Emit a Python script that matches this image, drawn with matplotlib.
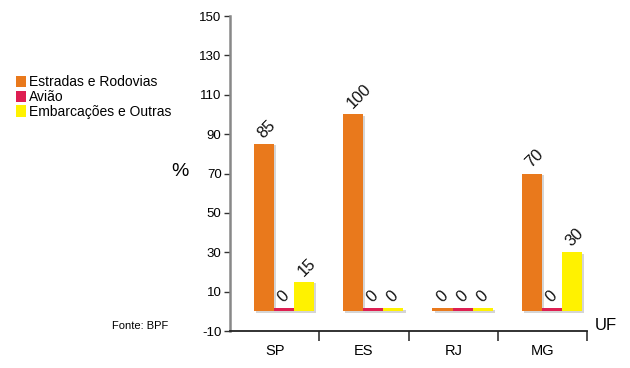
import matplotlib
matplotlib.use("Agg")
import matplotlib.pyplot as plt
import numpy as np
from matplotlib.patches import Patch
import matplotlib.patheffects as pe

categories = ["SP", "ES", "RJ", "MG"]
series_names = ["Estradas e Rodovias", "Avião", "Embarcações e Outras"]
estradas = [85, 100, 0, 70]
aviao = [0, 0, 0, 0]
embarcacoes = [15, 0, 0, 30]
yticks = [-10, 10, 30, 50, 70, 90, 110, 130, 150]

colors = ["#E9791C", "#DE1F52", "#FFF200"]
series = [estradas, aviao, embarcacoes]
offsets = [-0.12, 0.105, 0.33]
width = 0.225
stub = 1.6

plt.rcParams['font.family'] = ['Liberation Sans', 'DejaVu Sans']
fig = plt.figure(figsize=(6.3, 3.68), dpi=100)
ax = fig.add_axes([0.365, 0.1005, 0.567, 0.856])

x = np.arange(len(categories))
shadow = [pe.SimplePatchShadow(offset=(1.5, -1.0), shadow_rgbFace='#888888', alpha=0.35), pe.Normal()]
for vals, off, col in zip(series, offsets, colors):
    heights = [v if v > 0 else stub for v in vals]
    bars = ax.bar(x + off, heights, width=width, color=col, linewidth=0, zorder=3)
    for b in bars:
        b.set_path_effects(shadow)
    for xi, v, h in zip(x, vals, heights):
        ax.text(xi + off - width / 2 + 0.13, h + 1.5, str(v), rotation=45,
                rotation_mode='anchor', ha='left', va='bottom', fontsize=11.8,
                color='#111111', zorder=4)

ax.set_xlim(-0.5, 3.5)
ax.set_ylim(-10, 150)
ax.set_yticks(yticks)
ax.set_yticklabels([str(t) for t in yticks], fontsize=9.5)
ax.set_xticks([0.5, 1.5, 2.5, 3.5])
ax.set_xticklabels([])
ax.set_xticks(x, minor=True)
ax.set_xticklabels(categories, minor=True, fontsize=10.5)
ax.tick_params(axis='x', which='minor', length=0, pad=9)
ax.tick_params(axis='x', which='major', length=7, width=1.2, color='#333333', direction='out')
ax.tick_params(axis='y', length=4, width=1, color='#333333', direction='out', pad=2)
for s in ['top', 'right']:
    ax.spines[s].set_visible(False)
ax.spines['left'].set_color('#888888')
ax.spines['left'].set_linewidth(1.8)
ax.spines['bottom'].set_color('#222222')
ax.spines['bottom'].set_linewidth(1.3)

fig.text(0.285, 0.535, "%", fontsize=14, ha='center', va='center')
fig.text(0.962, 0.115, "UF", fontsize=12, ha='center', va='center')
fig.text(0.178, 0.115, "Fonte: BPF", fontsize=8, ha='left', va='center')

handles = [Patch(facecolor=c, edgecolor='none') for c in colors]
fig.legend(handles, series_names, loc='upper left', bbox_to_anchor=(0.025, 0.795),
           frameon=False, fontsize=10, handlelength=0.75, handleheight=0.85,
           handletextpad=0.2, labelspacing=0.05, borderaxespad=0, borderpad=0)

fig.savefig("out.png", dpi=100)
